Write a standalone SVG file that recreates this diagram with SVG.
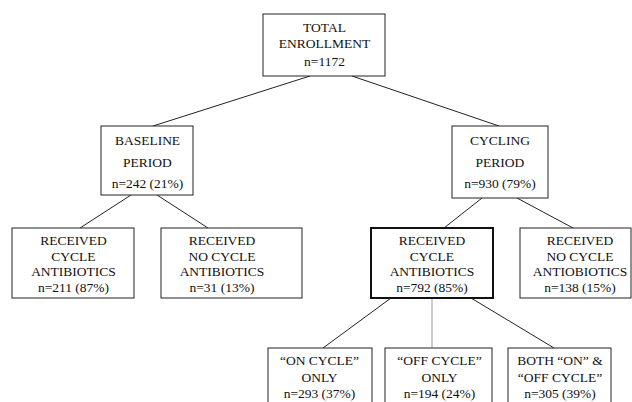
<svg xmlns="http://www.w3.org/2000/svg" width="632" height="402" viewBox="0 0 632 402">
<style>
.box{fill:#fff;stroke:#222;stroke-width:1}
.thick{stroke-width:2;stroke:#111}
text{font-family:"Liberation Serif",serif;font-size:13.5px;fill:#111;text-anchor:middle}
.ln{stroke:#222;stroke-width:1;fill:none}
.gray{stroke:#999}
</style>
<rect width="632" height="402" fill="#fff"/>
<g id="connectors">
<line class="ln" x1="310" y1="76" x2="153" y2="126"/>
<line class="ln" x1="352" y1="76" x2="499" y2="126"/>
<line class="ln" x1="131" y1="195" x2="80" y2="228"/>
<line class="ln" x1="157" y1="195" x2="208" y2="228"/>
<line class="ln" x1="482" y1="198" x2="444" y2="228"/>
<line class="ln" x1="517" y1="198" x2="573" y2="228"/>
<line class="ln" x1="391" y1="298" x2="323" y2="348"/>
<line class="ln gray" x1="432" y1="298" x2="432" y2="348"/>
<line class="ln" x1="471" y1="298" x2="554" y2="348"/>
</g>
<g id="total">
<rect class="box" x="263" y="14" width="122" height="62"/>
<text x="324.5" y="31.5" font-family="Liberation Serif" style="font-family:'Liberation Serif'">TOTAL</text>
<text x="324.5" y="48" style="font-family:'Liberation Serif'">ENROLLMENT</text>
<text x="324.5" y="65.5" style="font-family:'Liberation Serif'">n=1172</text>
</g>
<g id="baseline">
<rect class="box" x="101" y="126" width="92" height="69"/>
<text x="147.5" y="144.5">BASELINE</text>
<text x="147.5" y="167">PERIOD</text>
<text x="147.5" y="188">n=242 (21%)</text>
</g>
<g id="cycling">
<rect class="box" x="452" y="126" width="96" height="72"/>
<text x="500" y="144.5">CYCLING</text>
<text x="500" y="167">PERIOD</text>
<text x="500" y="188">n=930 (79%)</text>
</g>
<g id="baseline-cycle">
<rect class="box" x="12" y="228" width="122" height="70"/>
<text x="73.5" y="245">RECEIVED</text>
<text x="73.5" y="260.5">CYCLE</text>
<text x="73.5" y="276">ANTIBIOTICS</text>
<text x="73.5" y="291.5">n=211 (87%)</text>
</g>
<g id="baseline-nocycle">
<rect class="box" x="161" y="228" width="141" height="70"/>
<text x="222" y="245">RECEIVED</text>
<text x="222" y="260.5">NO CYCLE</text>
<text x="222" y="276">ANTIBIOTICS</text>
<text x="222" y="291.5">n=31 (13%)</text>
</g>
<g id="cycling-cycle">
<rect class="box thick" x="371" y="228" width="122" height="70"/>
<text x="432" y="245">RECEIVED</text>
<text x="432" y="260.5">CYCLE</text>
<text x="432" y="276">ANTIBIOTICS</text>
<text x="432" y="291.5">n=792 (85%)</text>
</g>
<g id="cycling-nocycle">
<rect class="box" x="520" y="228" width="111" height="70"/>
<text x="580" y="245">RECEIVED</text>
<text x="580" y="260.5">NO CYCLE</text>
<text x="580" y="276">ANTIOBIOTICS</text>
<text x="580" y="291.5">n=138 (15%)</text>
</g>
<g id="on-only">
<rect class="box" x="268" y="348" width="104" height="64"/>
<text x="319.5" y="365">“ON CYCLE”</text>
<text x="319.5" y="381.5">ONLY</text>
<text x="319.5" y="397.5">n=293 (37%)</text>
</g>
<g id="off-only">
<rect class="box" x="385" y="348" width="107" height="64"/>
<text x="439.5" y="365">“OFF CYCLE”</text>
<text x="439.5" y="381.5">ONLY</text>
<text x="439.5" y="397.5">n=194 (24%)</text>
</g>
<g id="both">
<rect class="box" x="508" y="348" width="103" height="64"/>
<text x="560" y="365">BOTH “ON” &amp;</text>
<text x="560" y="381.5">“OFF CYCLE”</text>
<text x="560" y="397.5">n=305 (39%)</text>
</g>
</svg>
